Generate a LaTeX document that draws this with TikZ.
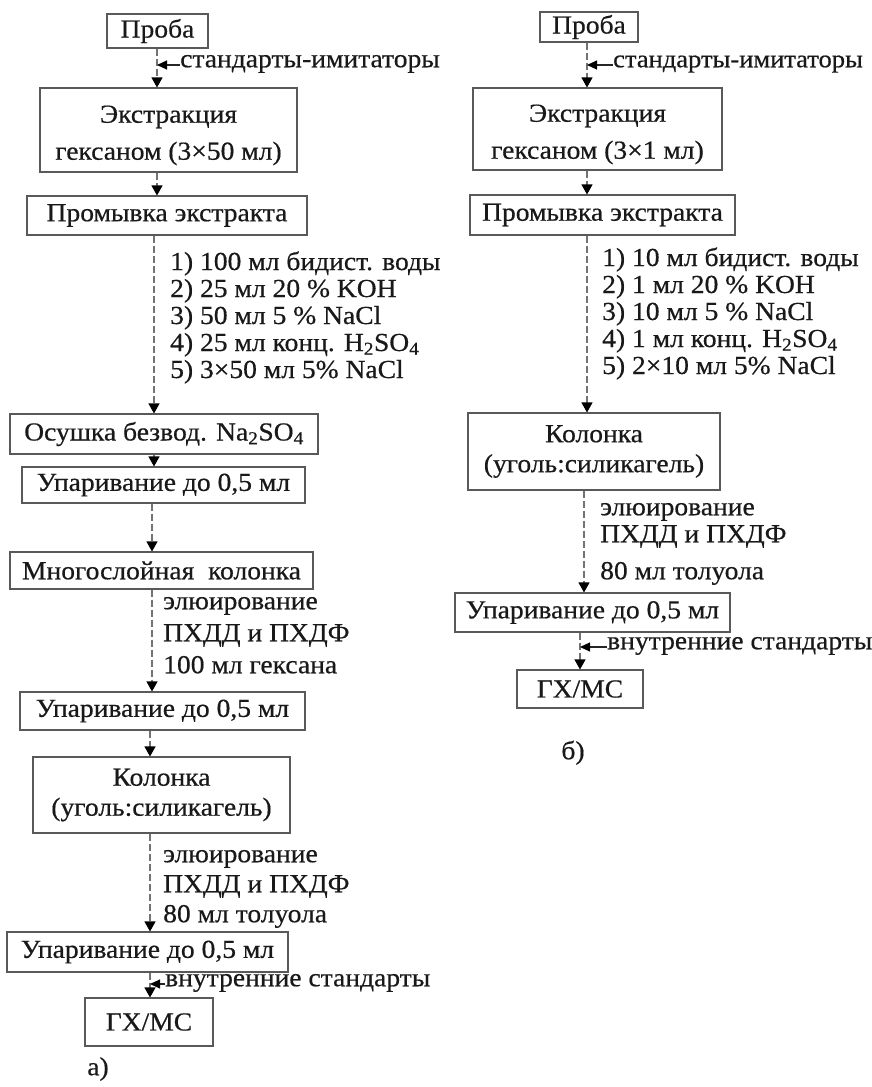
\documentclass[tikz,border=0pt]{standalone}
\usepackage{fontspec}
\setmainfont{Liberation Serif}[FakeStretch=1.06,BoldFont=Liberation Serif,BoldFeatures={FakeBold=0.5}]
\usetikzlibrary{arrows.meta}
\newcommand\dfont{\fontsize{26}{30}\selectfont\bfseries}
\begin{document}
\begin{tikzpicture}[x=1pt,y=-1pt,
  box/.style={draw=black!65, line width=1.1pt, inner sep=0pt, align=center, font=\dfont, text=black!90},
  tall/.style={font=\fontsize{26}{37}\selectfont\bfseries},
  colbox/.style={font=\fontsize{26}{30}\selectfont\bfseries},
  lbl/.style={inner sep=0pt, anchor=west, font=\dfont, text=black!90, text height=0.7em, text depth=0.25em},
  steps/.style={inner sep=0pt, anchor=base west, align=left, font=\fontsize{26}{27}\selectfont\bfseries, text=black!90},
  conn/.style={draw=black!55, line width=1.1pt, dash pattern=on 7pt off 3pt, -{Triangle[length=10pt,width=11pt,color=black]}},
  side/.style={draw=black!85, line width=1.1pt, -{Triangle[length=10pt,width=9pt,color=black]}}]
\useasboundingbox[fill=white] (0,0) rectangle (871,1087);
% ---------- left column (a) ----------
\coordinate (xA1) at (157,0);
\coordinate (xA2) at (154,0);
\coordinate (xA3) at (152,0);
\coordinate (xA4) at (150,0);
\node[box, minimum width=101, minimum height=34] (pA) at (157.5,31) {Проба};
\node[box, tall, minimum width=257, minimum height=84] (eA) at (168.5,130) {\rule{0pt}{28pt}Экстракция\\гексаном (3×50 мл)};
\node[box, minimum width=280, minimum height=39] (wA) at (167,215.5) {Промывка экстракта};
\node[box, minimum width=308, minimum height=40] (dA) at (164,434) {Осушка безвод. Na\textsubscript{2}SO\textsubscript{4}};
\node[box, minimum width=283, minimum height=36] (u1A) at (163.5,485) {Упаривание до 0,5 мл};
\node[box, minimum width=303, minimum height=37] (mA) at (161.5,570.5) {Многослойная\ \ колонка};
\node[box, minimum width=285, minimum height=38] (u2A) at (162.5,711) {Упаривание до 0,5 мл};
\node[box, colbox, minimum width=257, minimum height=76] (cA) at (161.5,795) {Колонка\\(уголь:силикагель)};
\node[box, minimum width=281, minimum height=40] (u3A) at (147.5,952) {Упаривание до 0,5 мл};
\node[box, minimum width=128, minimum height=48] (gA) at (149,1022) {ГХ/МС};
\node[lbl, anchor=center] (capA) at (98,1073) {а)};
\draw[conn] (pA.south -| xA1) -- (eA.north -| xA1);
\draw[conn] (eA.south -| xA1) -- (wA.north -| xA1);
\draw[conn] (wA.south -| xA2) -- (dA.north -| xA2);
\draw[conn] (dA.south -| xA2) -- (u1A.north -| xA2);
\draw[conn] (u1A.south -| xA3) -- (mA.north -| xA3);
\draw[conn] (mA.south -| xA3) -- (u2A.north -| xA3);
\draw[conn] (u2A.south -| xA4) -- (cA.north -| xA4);
\draw[conn] (cA.south -| xA4) -- (u3A.north -| xA4);
\draw[conn] (u3A.south -| xA4) -- (gA.north -| xA4);
\node[lbl] (sA) at (180,65) {стандарты-имитаторы};
\draw[side] (sA.west) -- (sA.west -| xA1);
\node[lbl] (iA) at (165,984) {внутренние стандарты};
\draw[side] (iA.west) -- (iA.west -| xA4);
\node[steps] (wAl) at (170,378) {1) 100 мл бидист. воды\\2) 25 мл 20 \% KOH\\3) 50 мл 5 \% NaCl\\4) 25 мл конц. H\textsubscript{2}SO\textsubscript{4}\\5) 3×50 мл 5\% NaCl};
\node[lbl] (mA1) at (163,607) {элюирование};
\node[lbl] (mA2) at (163,639) {ПХДД и ПХДФ};
\node[lbl] (mA3) at (163,671) {100 мл гексана};
\node[lbl] (cA1) at (163,860) {элюирование};
\node[lbl] (cA2) at (163,890) {ПХДД и ПХДФ};
\node[lbl] (cA3) at (163,920) {80 мл толуола};
% ---------- right column (b) ----------
\coordinate (xB1) at (587,0);
\coordinate (xB2) at (584,0);
\coordinate (xB3) at (580,0);
\node[box, minimum width=98, minimum height=30] (pB) at (589,27) {Проба};
\node[box, tall, minimum width=249, minimum height=82] (eB) at (597.5,129) {\rule{0pt}{28pt}Экстракция\\гексаном (3×1 мл)};
\node[box, minimum width=265, minimum height=40] (wB) at (602.5,215) {Промывка экстракта};
\node[box, colbox, minimum width=252, minimum height=77] (cB) at (594,451.5) {Колонка\\(уголь:силикагель)};
\node[box, minimum width=275, minimum height=39] (uB) at (592.5,612.5) {Упаривание до 0,5 мл};
\node[box, minimum width=126, minimum height=38] (gB) at (580,689) {ГХ/МС};
\node[lbl, anchor=center] (capB) at (573,757) {б)};
\draw[conn] (pB.south -| xB1) -- (eB.north -| xB1);
\draw[conn] (eB.south -| xB1) -- (wB.north -| xB1);
\draw[conn] (wB.south -| xB1) -- (cB.north -| xB1);
\draw[conn] (cB.south -| xB2) -- (uB.north -| xB2);
\draw[conn] (uB.south -| xB3) -- (gB.north -| xB3);
\node[lbl, font=\fontsize{25}{30}\selectfont\bfseries] (sB) at (613,65) {стандарты-имитаторы};
\draw[side] (sB.west) -- (sB.west -| xB1);
\node[lbl] (iB) at (607,647) {внутренние стандарты};
\draw[side] (iB.west) -- (iB.west -| xB3);
\node[steps] (wBl) at (602,374) {1) 10 мл бидист. воды\\2) 1 мл 20 \% KOH\\3) 10 мл 5 \% NaCl\\4) 1 мл конц. H\textsubscript{2}SO\textsubscript{4}\\5) 2×10 мл 5\% NaCl};
\node[lbl] (cB1) at (600,513) {элюирование};
\node[lbl] (cB2) at (600,540) {ПХДД и ПХДФ};
\node[lbl] (cB3) at (600,577) {80 мл толуола};
\end{tikzpicture}
\end{document}
